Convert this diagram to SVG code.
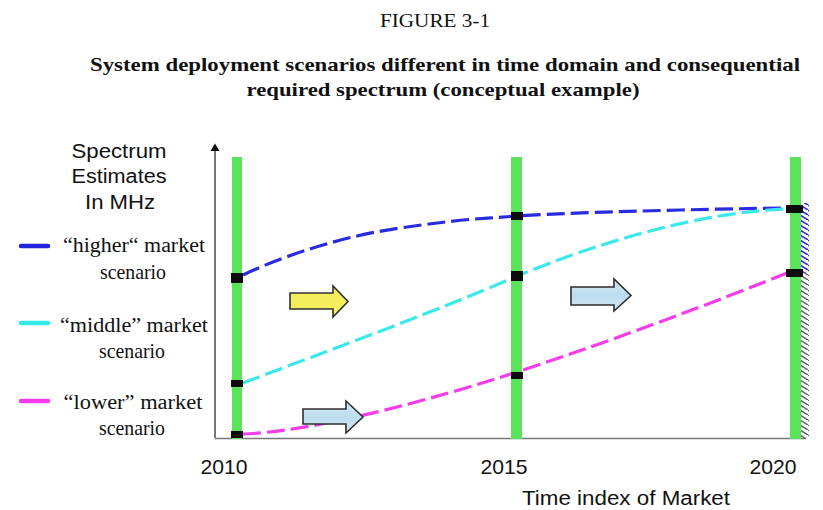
<svg xmlns="http://www.w3.org/2000/svg" width="823" height="510" viewBox="0 0 823 510">
  <defs>
    <style>
      .serif { font-family: "Liberation Serif", "Times New Roman", serif; fill: #111; }
      .sans { font-family: "Liberation Sans", Arial, sans-serif; fill: #111; }
      .bar { fill: #5ae35a; }
      .mark { fill: #0a0a0a; }
      .curve { fill: none; stroke-width: 3.2; stroke-dasharray: 18 6; }
      .legend { stroke-width: 4.5; stroke-linecap: round; }
      .arrow { stroke: #2f2f2f; stroke-width: 1.6; stroke-linejoin: miter; }
    </style>
    <pattern id="hatchBlue" width="8" height="5" patternUnits="userSpaceOnUse">
      <line x1="0" y1="0" x2="8" y2="5" stroke="#2a2ad8" stroke-width="1.5"/>
      <line x1="-8" y1="0" x2="0" y2="5" stroke="#2a2ad8" stroke-width="1.5"/>
    </pattern>
    <pattern id="hatchGray" width="8" height="5" patternUnits="userSpaceOnUse">
      <line x1="0" y1="0" x2="8" y2="5" stroke="#555" stroke-width="1.4"/>
      <line x1="-8" y1="0" x2="0" y2="5" stroke="#555" stroke-width="1.4"/>
    </pattern>
    <linearGradient id="paleBlue" x1="0" y1="0" x2="0" y2="1">
      <stop offset="0" stop-color="#d8ecf6"/>
      <stop offset="0.5" stop-color="#bcdcee"/>
      <stop offset="1" stop-color="#d4e8f3"/>
    </linearGradient>
  </defs>

  <rect width="823" height="510" fill="#ffffff"/>

  <!-- headings -->
  <g id="heading">
    <text class="serif" x="435" y="27" font-size="18" text-anchor="middle" textLength="110" lengthAdjust="spacingAndGlyphs">FIGURE 3-1</text>
    <text class="serif" x="445" y="71" font-size="19" font-weight="bold" text-anchor="middle" textLength="710" lengthAdjust="spacingAndGlyphs">System deployment scenarios different in time domain and consequential</text>
    <text class="serif" x="443" y="96" font-size="19" font-weight="bold" text-anchor="middle" textLength="393" lengthAdjust="spacingAndGlyphs">required spectrum (conceptual example)</text>
  </g>

  <!-- axes -->
  <g id="axes">
    <line x1="215" y1="438" x2="215" y2="150" stroke="#555" stroke-width="1.6"/>
    <polygon points="210.5,151 215,143.5 219.5,151" fill="#111"/>
    <line x1="215" y1="438.5" x2="806" y2="438.5" stroke="#777" stroke-width="1.4"/>
  </g>

  <!-- y-axis title -->
  <g id="y-title">
    <text class="sans" x="119" y="158" font-size="20" text-anchor="middle" textLength="95" lengthAdjust="spacingAndGlyphs">Spectrum</text>
    <text class="sans" x="119" y="183" font-size="20" text-anchor="middle" textLength="95" lengthAdjust="spacingAndGlyphs">Estimates</text>
    <text class="sans" x="120" y="209" font-size="20" text-anchor="middle" textLength="70" lengthAdjust="spacingAndGlyphs">In MHz</text>
  </g>

  <!-- legend -->
  <g id="legend-higher">
    <line class="legend" x1="21" y1="246" x2="48" y2="246" stroke="#2222dd"/>
    <text class="serif" x="134" y="252" font-size="20" text-anchor="middle" textLength="142" lengthAdjust="spacingAndGlyphs">“higher“ market</text>
    <text class="serif" x="133" y="279" font-size="21" text-anchor="middle" textLength="66" lengthAdjust="spacingAndGlyphs">scenario</text>
  </g>
  <g id="legend-middle">
    <line class="legend" x1="21" y1="323" x2="48" y2="323" stroke="#33eaea"/>
    <text class="serif" x="134" y="332" font-size="20" text-anchor="middle" textLength="148" lengthAdjust="spacingAndGlyphs">“middle” market</text>
    <text class="serif" x="132" y="358" font-size="21" text-anchor="middle" textLength="66" lengthAdjust="spacingAndGlyphs">scenario</text>
  </g>
  <g id="legend-lower">
    <line class="legend" x1="21" y1="401" x2="48" y2="401" stroke="#f43cec"/>
    <text class="serif" x="133" y="409" font-size="20" text-anchor="middle" textLength="139" lengthAdjust="spacingAndGlyphs">“lower” market</text>
    <text class="serif" x="132" y="435" font-size="21" text-anchor="middle" textLength="66" lengthAdjust="spacingAndGlyphs">scenario</text>
  </g>

  <!-- hatched band beside the 2020 bar -->
  <g id="band-2020">
    <rect x="801" y="203" width="8" height="70" fill="url(#hatchBlue)"/>
    <rect x="801" y="273" width="8" height="165" fill="url(#hatchGray)"/>
  </g>

  <!-- scenario curves -->
  <g id="connectors">
    <path class="curve" stroke="#2a2ade" d="M243,275 C270,262 330,238 400,228 S480,219 517,216 S700,209 787,208"/>
    <path class="curve" stroke="#3ce8ea" d="M243,383 C330,350 440,310 517,276 C600,242 700,212 787,209"/>
    <path class="curve" stroke="#f43ce8" d="M243,434 C300,432 400,410 517,372 C620,338 720,300 787,273"/>
  </g>

  <!-- year bars -->
  <g id="bar-2010"><rect class="bar" x="232" y="157" width="10" height="282"/></g>
  <g id="bar-2015"><rect class="bar" x="511" y="157" width="11" height="282"/></g>
  <g id="bar-2020"><rect class="bar" x="790" y="157" width="11" height="282"/></g>

  <!-- data points -->
  <g id="points">
    <rect class="mark" x="231" y="273" width="12" height="10"/>
    <rect class="mark" x="231" y="380" width="12" height="7"/>
    <rect class="mark" x="231" y="431" width="12" height="7"/>
    <rect class="mark" x="511" y="212" width="12" height="8"/>
    <rect class="mark" x="511" y="271" width="12" height="10"/>
    <rect class="mark" x="511" y="372" width="12" height="7"/>
    <rect class="mark" x="786" y="205" width="17" height="8"/>
    <rect class="mark" x="786" y="269" width="17" height="8"/>
  </g>

  <!-- block arrows -->
  <g id="arrow-yellow">
    <polygon class="arrow" fill="#f4ee5c" points="290,293 333,293 333,286 348,301.5 333,317 333,309 290,309"/>
  </g>
  <g id="arrow-blue-right">
    <polygon class="arrow" fill="url(#paleBlue)" points="571,287 614,287 614,279 631,295.5 614,311 614,305 571,305"/>
  </g>
  <g id="arrow-blue-low">
    <polygon class="arrow" fill="url(#paleBlue)" points="303,409 346,409 346,401 363,417 346,433 346,424 303,424"/>
  </g>

  <!-- x-axis labels -->
  <g id="x-labels">
    <text class="sans" x="224" y="474" font-size="21" text-anchor="middle" textLength="47" lengthAdjust="spacingAndGlyphs">2010</text>
    <text class="sans" x="504" y="474" font-size="21" text-anchor="middle" textLength="47" lengthAdjust="spacingAndGlyphs">2015</text>
    <text class="sans" x="773" y="474" font-size="21" text-anchor="middle" textLength="47" lengthAdjust="spacingAndGlyphs">2020</text>
    <text class="sans" x="626" y="505" font-size="20" text-anchor="middle" textLength="208" lengthAdjust="spacingAndGlyphs">Time index of Market</text>
  </g>
</svg>
